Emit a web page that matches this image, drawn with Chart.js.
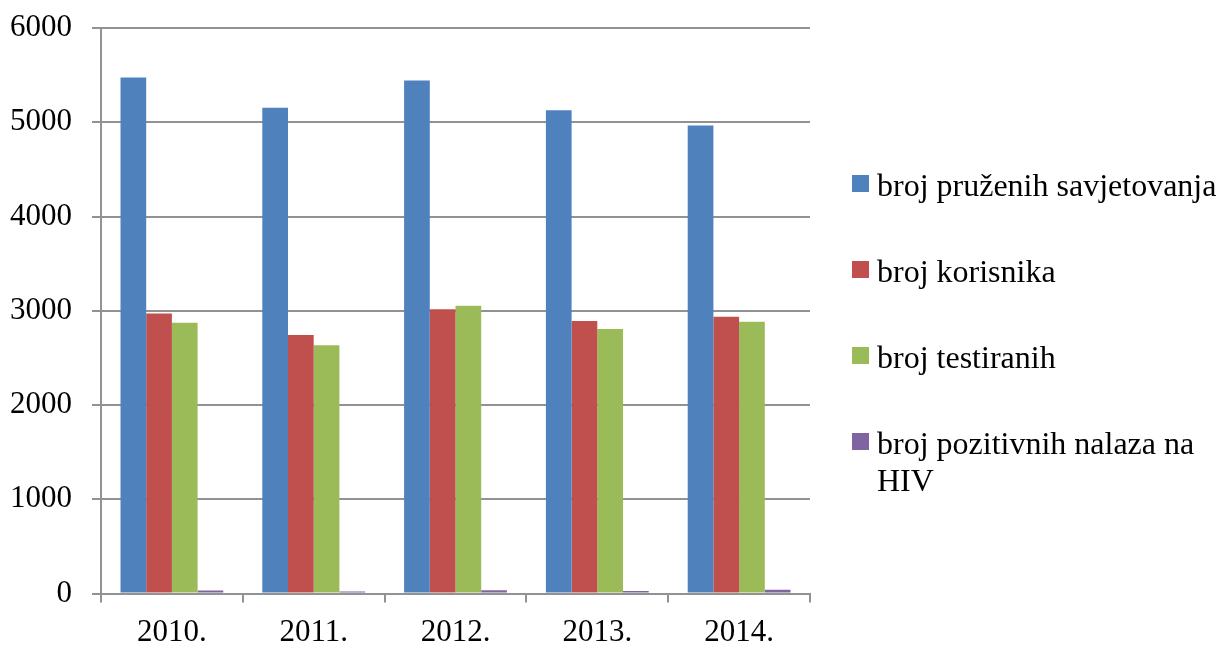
<!DOCTYPE html>
<html>
<head>
<meta charset="utf-8">
<script src="https://cdn.jsdelivr.net/npm/chart.js@4"></script>
<style>
  body { margin: 0; background: #fff; }
  #wrap { position: relative; width: 1219px; height: 646px; overflow: hidden; }
  #legend { position: absolute; left: 852px; top: 0; font-family: 'Liberation Serif', serif; font-size: 32px; color: #000; }
  .item { position: absolute; left: 0; width: 367px; line-height: 37px; white-space: nowrap; }
  .item span { position: absolute; left: 0; top: 8px; width: 17px; height: 17px; }
  .item div { margin-left: 25px; }
</style>
</head>
<body>
<div id="wrap">
  <canvas id="chart" width="1219" height="646"></canvas>
  <div id="legend"></div>
</div>
<script>
const years = ['2010.', '2011.', '2012.', '2013.', '2014.'];
const savjetovanja = [5475, 5155, 5443, 5127, 4965];
const korisnici = [2971, 2743, 3017, 2890, 2936];
const testirani = [2872, 2634, 3052, 2806, 2883];
const pozitivni = [33, 22, 35, 27, 40];
const seriesNames = ['broj pruženih savjetovanja', 'broj korisnika', 'broj testiranih', 'broj pozitivnih nalaza na HIV'];
const colors = ['#4F81BD', '#C0504D', '#9BBB59', '#8064A2'];
const yTicks = [0, 1000, 2000, 3000, 4000, 5000, 6000];

const values = [savjetovanja, korisnici, testirani, pozitivni];
const serif = 'Liberation Serif';
const gridColor = '#929292';

new Chart(document.getElementById('chart'), {
  type: 'bar',
  data: {
    labels: years,
    datasets: values.map((data, i) => ({
      label: seriesNames[i],
      data: data,
      backgroundColor: colors[i],
      borderWidth: 0,
      barPercentage: 1,
      categoryPercentage: 0.725,
    })),
  },
  options: {
    responsive: false,
    animation: false,
    layout: { padding: { top: 28, right: 409, left: 0, bottom: 0 } },
    plugins: {
      legend: { display: false },
      tooltip: { enabled: false },
    },
    scales: {
      x: {
        grid: { display: true, drawOnChartArea: false, drawTicks: true, tickLength: 9, offset: true, color: gridColor, lineWidth: 2 },
        border: { color: gridColor, width: 2 },
        ticks: { color: '#000', font: { family: serif, size: 31 }, padding: 12 },
        afterFit: (scale) => {
          scale.height = 52.5;
          scale.paddingLeft = 0;
          scale.paddingRight = 0;
        },
      },
      y: {
        min: 0,
        max: 6000,
        afterBuildTicks: (scale) => { scale.ticks = yTicks.map(v => ({ value: v })); },
        grid: { color: gridColor, lineWidth: 2, tickLength: 9 },
        border: { color: gridColor, width: 2 },
        ticks: { color: '#000', font: { family: serif, size: 31 }, padding: 20, callback: (v) => String(v) },
        afterFit: (scale) => {
          scale.width = 101;
          scale.paddingTop = 0;
          scale.paddingBottom = 0;
        },
      },
    },
  },
});

const legend = document.getElementById('legend');
const tops = [167, 253, 339, 425];
seriesNames.forEach((name, i) => {
  const item = document.createElement('div');
  item.className = 'item';
  item.style.top = tops[i] + 'px';
  item.innerHTML = '<span style="background:' + colors[i] + '"></span><div>' + name.replace(' na HIV', ' na<br>HIV') + '</div>';
  legend.appendChild(item);
});
</script>
</body>
</html>
